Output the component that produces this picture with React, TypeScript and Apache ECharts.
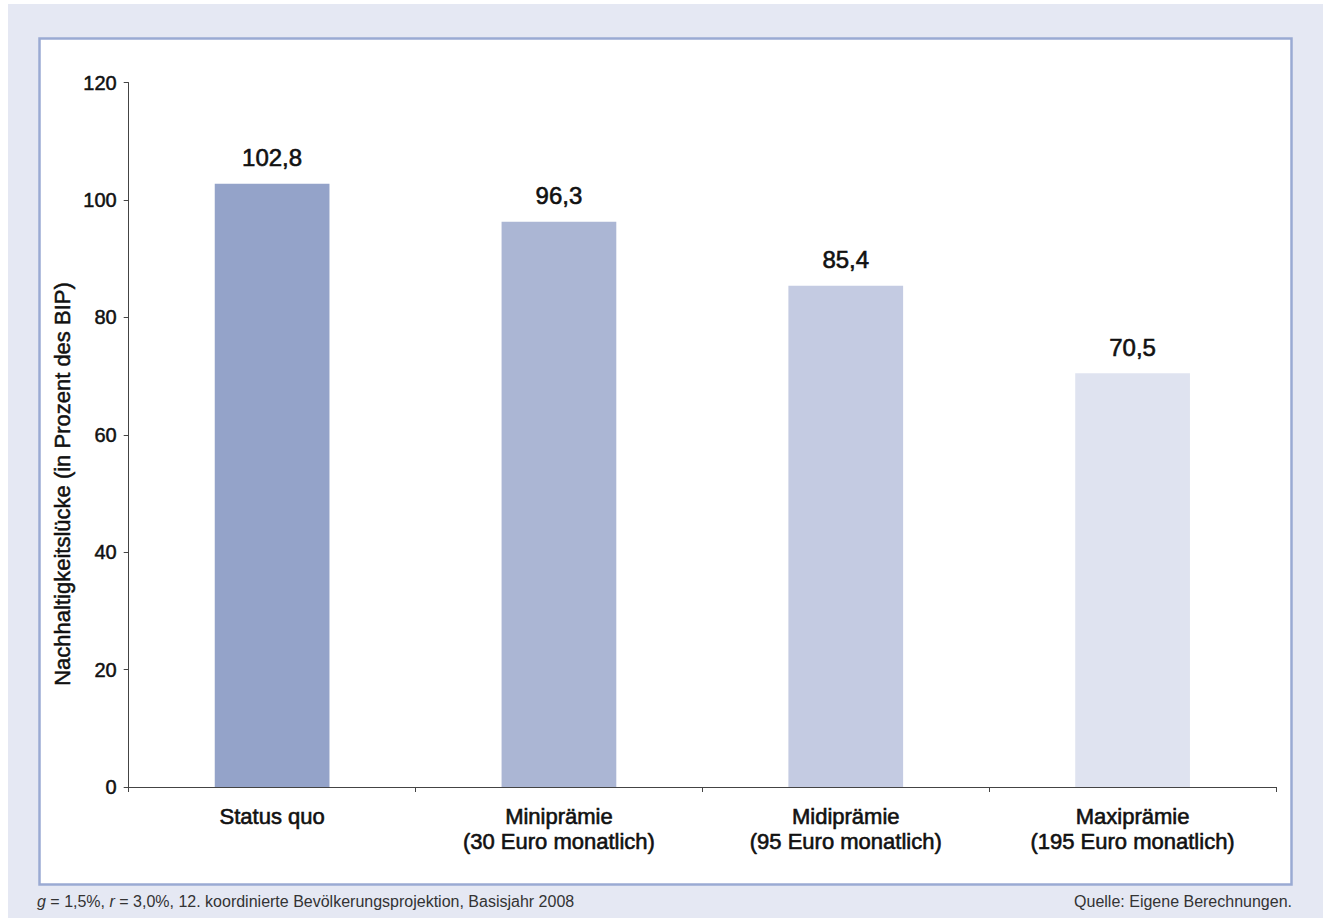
import React, { useEffect, useRef } from "react";
import * as echarts from "echarts";

const categories = [
  "Status quo",
  "Miniprämie\n(30 Euro monatlich)",
  "Midiprämie\n(95 Euro monatlich)",
  "Maxiprämie\n(195 Euro monatlich)",
];
const values = [102.8, 96.3, 85.4, 70.5];
const barColors = ["#94a3c9", "#abb6d4", "#c4cbe2", "#dfe3f0"];
const yTicks = { min: 0, max: 120, interval: 20 };
const yAxisTitle = "Nachhaltigkeitslücke (in Prozent des BIP)";
const noteLeft = "{i|g} = 1,5%, {i|r} = 3,0%, 12. koordinierte Bevölkerungsprojektion, Basisjahr 2008";
const noteRight = "Quelle: Eigene Berechnungen.";

const FONT = "'Liberation Sans', Arial, Helvetica, sans-serif";

export default function App() {
  const ref = useRef<HTMLDivElement>(null);
  useEffect(() => {
    if (!ref.current) return;
    const chart = echarts.init(ref.current, undefined, { renderer: "svg" });
    chart.setOption({
      animation: false,
      backgroundColor: "#ffffff",
      textStyle: { fontFamily: FONT },
      graphic: [
        {
          type: "rect",
          z: -10,
          silent: true,
          shape: { x: 8, y: 4, width: 1315, height: 914 },
          style: { fill: "#e5e8f3" },
        },
        {
          type: "rect",
          z: -9,
          silent: true,
          shape: { x: 39.5, y: 38.5, width: 1252, height: 846 },
          style: { fill: "#ffffff", stroke: "#9aaad3", lineWidth: 2.5 },
        },
        {
          type: "text",
          x: 62,
          y: 484,
          rotation: Math.PI / 2,
          style: {
            text: yAxisTitle,
            fontFamily: FONT,
            fontSize: 22,
            fill: "#111",
            stroke: "#111",
            lineWidth: 0.5,
            textAlign: "center",
            textVerticalAlign: "middle",
          },
        },
        {
          type: "text",
          x: 37,
          y: 901,
          style: {
            text: noteLeft,
            rich: { i: { fontStyle: "italic", fontSize: 16, fontFamily: FONT, fill: "#333" } },
            fontFamily: FONT,
            fontSize: 16,
            fill: "#333",
            textAlign: "left",
            textVerticalAlign: "middle",
          },
        },
        {
          type: "text",
          x: 1292,
          y: 901,
          style: {
            text: noteRight,
            fontFamily: FONT,
            fontSize: 16,
            fill: "#333",
            textAlign: "right",
            textVerticalAlign: "middle",
          },
        },
      ],
      grid: { left: 128.7, right: 47, top: 82.7, bottom: 131, containLabel: false },
      xAxis: {
        type: "category",
        data: categories,
        boundaryGap: true,
        axisLine: { show: true, lineStyle: { color: "#444", width: 1 } },
        axisTick: { show: true, length: 5, lineStyle: { color: "#444" } },
        axisLabel: {
          margin: 17,
          fontSize: 22,
          lineHeight: 25,
          color: "#111",
          textBorderColor: "#111",
          textBorderWidth: 0.6,
          fontFamily: FONT,
        },
        splitLine: { show: false },
      },
      yAxis: {
        type: "value",
        min: yTicks.min,
        max: yTicks.max,
        interval: yTicks.interval,
        axisLine: { show: true, lineStyle: { color: "#444", width: 1 } },
        axisTick: { show: true, length: 5, lineStyle: { color: "#444" } },
        axisLabel: {
          margin: 12,
          fontSize: 20,
          color: "#111",
          textBorderColor: "#111",
          textBorderWidth: 0.5,
          fontFamily: FONT,
        },
        splitLine: { show: false },
      },
      series: [
        {
          type: "bar",
          barWidth: "40%",
          data: values.map((v, i) => ({ value: v, itemStyle: { color: barColors[i] } })),
          label: {
            show: true,
            position: "top",
            distance: 14,
            fontSize: 24,
            color: "#111",
            textBorderColor: "#111",
            textBorderWidth: 0.6,
            fontFamily: FONT,
            formatter: (p: any) => String(p.value).replace(".", ","),
          },
        },
      ],
    });
    return () => chart.dispose();
  }, []);
  return (
    <div
      ref={ref}
      style={{ position: "absolute", left: 0, top: 0, width: 1323, height: 918 }}
    />
  );
}
